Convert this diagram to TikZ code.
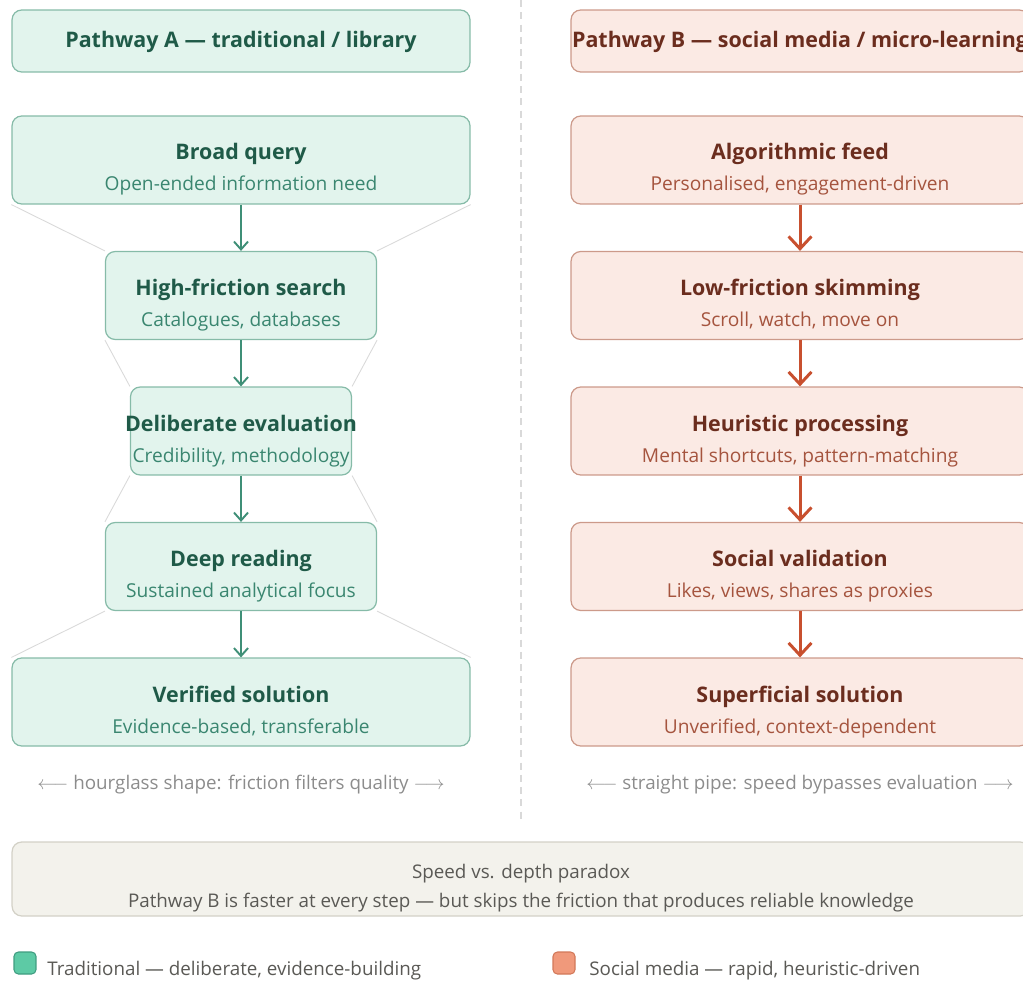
\documentclass[tikz,border=0pt]{standalone}
\usepackage{fontspec}
\setmainfont{Open Sans}
\usetikzlibrary{arrows.meta}
\definecolor{grnfill}{HTML}{E2F4ED}
\definecolor{grnline}{HTML}{86BBA8}
\definecolor{grnttl}{HTML}{1F5A48}
\definecolor{grnsub}{HTML}{3A8670}
\definecolor{grnarr}{HTML}{3F8F77}
\definecolor{redfill}{HTML}{FBEAE4}
\definecolor{redline}{HTML}{CC9A8A}
\definecolor{redttl}{HTML}{6B2D1E}
\definecolor{redsub}{HTML}{A5543E}
\definecolor{redarr}{HTML}{C8502F}
\definecolor{notefill}{HTML}{F3F2EC}
\definecolor{noteline}{HTML}{D3D1C7}
\definecolor{notetxt}{HTML}{5A5955}
\definecolor{capgray}{HTML}{8C8C8C}
\definecolor{keyA}{HTML}{5DCAA5}
\definecolor{keyAline}{HTML}{3F9C80}
\definecolor{keyB}{HTML}{F0997B}
\definecolor{keyBline}{HTML}{D27859}
\tikzstyle{boxA}=[shape=rectangle, rounded corners=5.5pt, draw=grnline, fill=grnfill, line width=0.7pt, minimum height=1.76cm, inner sep=0]
\tikzstyle{boxB}=[shape=rectangle, rounded corners=5.5pt, draw=redline, fill=redfill, line width=0.7pt, minimum height=1.76cm, minimum width=9.16cm, inner sep=0]
\tikzstyle{ttlA}=[anchor=base, inner sep=0, text=grnttl, font=\bfseries\fontsize{12.2}{14}\selectfont]
\tikzstyle{subA}=[anchor=base, inner sep=0, text=grnsub, font=\fontsize{10.9}{13}\selectfont]
\tikzstyle{ttlB}=[anchor=base, inner sep=0, text=redttl, font=\bfseries\fontsize{12.2}{14}\selectfont]
\tikzstyle{subB}=[anchor=base, inner sep=0, text=redsub, font=\fontsize{10.9}{13}\selectfont]
\tikzstyle{arrA}=[draw=grnarr, line width=1.1pt, -{Straight Barb[length=4.5pt,width=8pt]}]
\tikzstyle{arrB}=[draw=redarr, line width=1.7pt, -{Straight Barb[length=7pt,width=13pt]}]
\tikzstyle{funnel}=[draw=black!15, line width=0.5pt]
\tikzstyle{captxt}=[anchor=base, inner sep=0, text=capgray, font=\fontsize{10.7}{13}\selectfont]
\tikzstyle{keybox}=[shape=rectangle, rounded corners=2.5pt, minimum size=0.44cm, inner sep=0, line width=0.6pt]
\begin{document}
\begin{tikzpicture}[x=0.02cm, y=-0.02cm]
\useasboundingbox (0,0) rectangle (1023,983);
\draw[black!15, line width=0.6pt, dash pattern=on 4pt off 3pt] (521,0) -- (521,820);
\node[boxA, minimum width=9.16cm, minimum height=1.24cm] (hA) at (241,41) {};
\node[ttlA] (thA) at (241,48) {Pathway A — traditional / library};
\node[boxB, minimum height=1.24cm] (hB) at (800,41) {};
\node[ttlB] (thB) at (800,48) {Pathway B — social media / micro-learning};
\foreach \i/\w/\t/\s in {0/9.16/Broad query/Open-ended information need,
  1/5.42/High-friction search/{Catalogues, databases},
  2/4.42/Deliberate evaluation/{Credibility, methodology},
  3/5.42/Deep reading/Sustained analytical focus,
  4/9.16/Verified solution/{Evidence-based, transferable}}
{
\node[boxA, minimum width=\w cm] (A\i) at (241,{160+135.5*\i}) {};
\node[ttlA] (tA\i) at (241,{160+135.5*\i}) {\t};
\node[subA] (sA\i) at (241,{191+135.5*\i}) {\s};
}
\foreach \i/\t/\s in {0/Algorithmic feed/{Personalised, engagement-driven},
  1/Low-friction skimming/{Scroll, watch, move on},
  2/Heuristic processing/{Mental shortcuts, pattern-matching},
  3/Social validation/{Likes, views, shares as proxies},
  4/Superficial solution/{Unverified, context-dependent}}
{
\node[boxB] (B\i) at (800,{160+135.5*\i}) {};
\node[ttlB] (tB\i) at (800,{160+135.5*\i}) {\t};
\node[subB] (sB\i) at (800,{191+135.5*\i}) {\s};
}
\foreach \x [evaluate=\x as \y using int(\x+1)] in {0,...,3}
{
\draw[funnel] (A\x.south west) -- (A\y.north west);
\draw[funnel] (A\x.south east) -- (A\y.north east);
\draw[arrA] (A\x.south) -- (A\y.north);
\draw[arrB] (B\x.south) -- (B\y.north);
}
\node[captxt] (capA) at (241,789) {$\longleftarrow$ hourglass shape: friction filters quality $\longrightarrow$};
\node[captxt] (capB) at (800,789) {$\longleftarrow$ straight pipe: speed bypasses evaluation $\longrightarrow$};
\node[shape=rectangle, rounded corners=5.5pt, draw=noteline, fill=notefill, line width=0.7pt, minimum width=20.36cm, minimum height=1.48cm] (note) at (521,879) {};
\node[captxt, text=notetxt] (n1) at (521,878) {Speed vs. depth paradox};
\node[captxt, text=notetxt] (n2) at (521,907) {Pathway B is faster at every step — but skips the friction that produces reliable knowledge};
\node[keybox, draw=keyAline, fill=keyA] (kA) at (25,963) {};
\node[captxt, text=notetxt, anchor=base west] (lA) at (47,975) {Traditional — deliberate, evidence-building};
\node[keybox, draw=keyBline, fill=keyB] (kB) at (564,963) {};
\node[captxt, text=notetxt, anchor=base west] (lB) at (589,975) {Social media — rapid, heuristic-driven};
\end{tikzpicture}
\end{document}
